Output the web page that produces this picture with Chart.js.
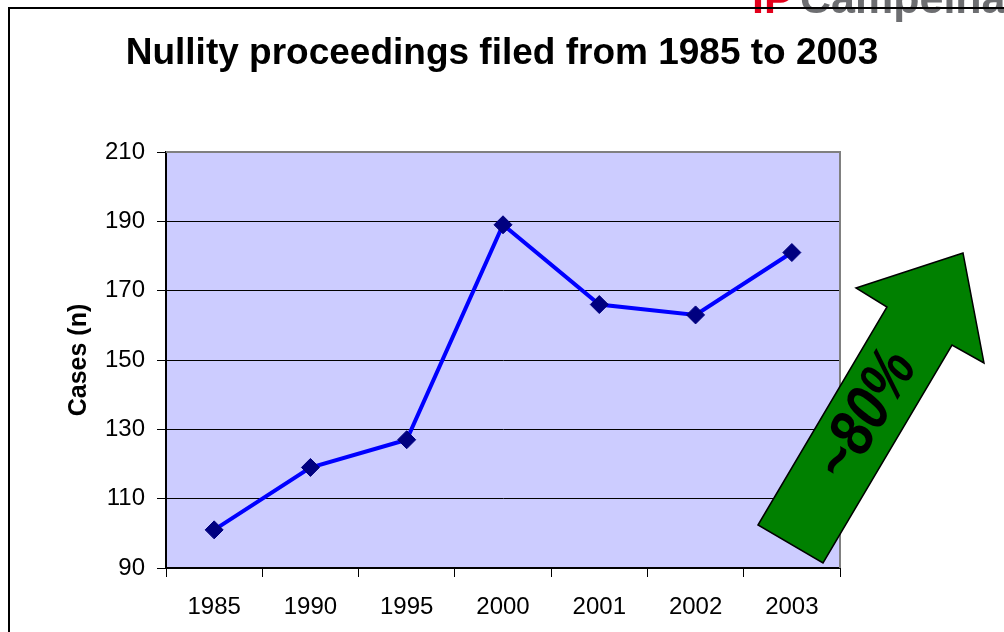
<!DOCTYPE html>
<html>
<head>
<meta charset="utf-8">
<title>Nullity proceedings</title>
<script src="https://cdn.jsdelivr.net/npm/chart.js@4.4.1/dist/chart.umd.min.js"></script>
<style>
  html, body { margin: 0; padding: 0; background: #fff; }
  canvas { display: block; }
</style>
</head>
<body>
<canvas id="chart" width="1004" height="632"></canvas>
<script>
// values
const years = ['1985', '1990', '1995', '2000', '2001', '2002', '2003'];
const cases = [101, 119, 127, 189, 166, 163, 181];
const yMin = 90;
const yMax = 210;
const yStep = 20;

const FONT = '"Liberation Sans", Arial, sans-serif';

// lavender plot background
const plotBg = {
  id: 'plotBg',
  beforeDraw(chart) {
    const { ctx, chartArea: a } = chart;
    ctx.save();
    ctx.fillStyle = '#ccccff';
    ctx.fillRect(a.left, a.top, a.right - a.left, a.bottom - a.top);
    ctx.restore();
  }
};

// grey top/right edge of the plot area
const plotEdge = {
  id: 'plotEdge',
  beforeDatasetsDraw(chart) {
    const { ctx, chartArea: a } = chart;
    ctx.save();
    ctx.strokeStyle = '#808080';
    ctx.lineWidth = 2;
    ctx.beginPath();
    ctx.moveTo(a.left, a.top);
    ctx.lineTo(a.right, a.top);
    ctx.lineTo(a.right, a.bottom);
    ctx.stroke();
    ctx.restore();
  }
};

// slide frame, cut-off logo text and the green arrow
const decor = {
  id: 'decor',
  afterDraw(chart) {
    const { ctx, width, height } = chart;
    ctx.save();

    // logo text, mostly above the top edge
    ctx.textBaseline = 'alphabetic';
    ctx.textAlign = 'left';
    ctx.font = 'bold 43px ' + FONT;
    ctx.fillStyle = '#e3001b';
    ctx.fillText('IP', 752, 13);
    ctx.fillStyle = '#6d6e71';
    ctx.fillText('Campeinar', 800, 13);

    // frame lines
    ctx.strokeStyle = '#000';
    ctx.lineWidth = 2;
    ctx.beginPath();
    ctx.moveTo(9, height);
    ctx.lineTo(9, 8);
    ctx.lineTo(width, 8);
    ctx.stroke();

    // arrow
    ctx.beginPath();
    ctx.moveTo(758, 525);
    ctx.lineTo(887, 307);
    ctx.lineTo(856, 288);
    ctx.lineTo(963, 253);
    ctx.lineTo(984, 363);
    ctx.lineTo(952, 345);
    ctx.lineTo(823, 563);
    ctx.closePath();
    ctx.fillStyle = '#008000';
    ctx.fill();
    ctx.lineWidth = 1.5;
    ctx.strokeStyle = '#000';
    ctx.stroke();

    ctx.translate(867, 416);
    ctx.rotate(-59.3 * Math.PI / 180);
    ctx.scale(1, 1.2);
    ctx.font = 'italic bold 54px ' + FONT;
    ctx.textAlign = 'center';
    ctx.textBaseline = 'middle';
    ctx.fillStyle = '#000';
    ctx.fillText('~80%', 0, 0);

    ctx.restore();
  }
};

new Chart(document.getElementById('chart'), {
  type: 'line',
  data: {
    labels: years,
    datasets: [{
      label: 'Cases',
      data: cases,
      borderColor: '#0000ff',
      borderWidth: 4,
      tension: 0,
      pointStyle: 'rectRot',
      pointRadius: 9,
      pointBackgroundColor: '#000080',
      pointBorderColor: '#000080',
      pointBorderWidth: 1,
      yAxisID: 'y'
    }]
  },
  options: {
    responsive: false,
    animation: false,
    events: [],
    layout: { padding: 0 },
    plugins: {
      legend: { display: false },
      tooltip: { enabled: false },
      title: {
        display: true,
        text: 'Nullity proceedings filed from 1985 to 2003',
        color: '#000',
        font: { family: FONT, size: 37, weight: 'bold', lineHeight: 1.2 },
        padding: { top: 32, bottom: 75.6 }
      }
    },
    scales: {
      x: {
        type: 'category',
        offset: true,
        grid: {
          offset: true,
          drawOnChartArea: false,
          drawTicks: true,
          tickLength: 9,
          color: '#000',
          lineWidth: 1
        },
        border: { display: true, color: '#000', width: 2 },
        ticks: {
          color: '#000',
          font: { family: FONT, size: 24 },
          padding: 16,
          maxRotation: 0,
          autoSkip: false
        },
        afterFit(scale) { scale.height = 64; }
      },
      y: {
        position: 'left',
        min: yMin,
        max: yMax,
        grid: {
          color: '#000',
          lineWidth: 1,
          drawTicks: true,
          tickLength: 9
        },
        border: { display: true, color: '#000', width: 2 },
        ticks: {
          stepSize: yStep,
          color: '#000',
          font: { family: FONT, size: 24 },
          padding: 12
        },
        title: {
          display: true,
          text: 'Cases (n)',
          color: '#000',
          font: { family: FONT, size: 25, weight: 'bold', lineHeight: 1.2 },
          padding: { top: 64, bottom: 0 }
        },
        afterFit(scale) { scale.width = 166; }
      },
      // empty right-hand box so the plot ends where the arrow begins
      gap: {
        position: 'right',
        min: yMin,
        max: yMax,
        grid: { display: false },
        border: { display: false },
        ticks: { display: false },
        afterFit(scale) { scale.width = 164; }
      }
    }
  },
  plugins: [plotBg, plotEdge, decor]
});
</script>
</body>
</html>
